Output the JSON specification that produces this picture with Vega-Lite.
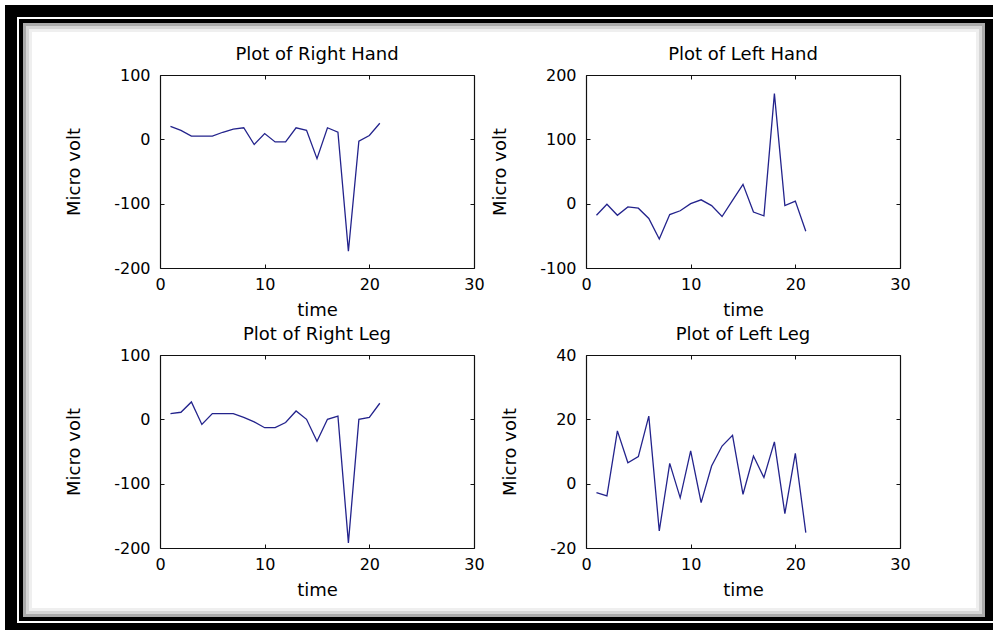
{
  "$schema": "https://vega.github.io/schema/vega-lite/v6.json",
  "background": "white",
  "padding": {"left": 5, "top": 5, "right": 0, "bottom": 0},
  "config": {
    "view": {"stroke": null},
    "axis": {
      "grid": false,
      "domainColor": "#111111",
      "domainWidth": 1.2,
      "tickColor": "#111111",
      "tickSize": -4,
      "labelFont": "DejaVu Sans",
      "labelFontSize": 16,
      "labelColor": "#000000",
      "labelExpr": "'' + datum.value",
      "titleFont": "DejaVu Sans",
      "titleFontSize": 18,
      "titleFontWeight": "normal",
      "titleColor": "#000000",
      "labelFlush": false,
      "labelOverlap": false
    },
    "axisX": {"labelPadding": 12, "titlePadding": 9},
    "axisY": {"labelPadding": 14, "titlePadding": 30},
    "title": {"font": "DejaVu Sans", "fontSize": 18, "fontWeight": "normal", "color": "#000000", "frame": "group", "anchor": "middle", "baseline": "alphabetic", "offset": 3}
  },
  "datasets": {
    "none": [],
    "rh": [
      {"t": 1, "v": 20}, {"t": 2, "v": 14}, {"t": 3, "v": 5}, {"t": 4, "v": 5}, {"t": 5, "v": 5},
      {"t": 6, "v": 11}, {"t": 7, "v": 16}, {"t": 8, "v": 18}, {"t": 9, "v": -8}, {"t": 10, "v": 9},
      {"t": 11, "v": -4}, {"t": 12, "v": -4}, {"t": 13, "v": 18}, {"t": 14, "v": 14}, {"t": 15, "v": -30},
      {"t": 16, "v": 18}, {"t": 17, "v": 11}, {"t": 18, "v": -174}, {"t": 19, "v": -3}, {"t": 20, "v": 6},
      {"t": 21, "v": 25}
    ],
    "lh": [
      {"t": 1, "v": -18}, {"t": 2, "v": -1}, {"t": 3, "v": -18}, {"t": 4, "v": -5}, {"t": 5, "v": -7},
      {"t": 6, "v": -23}, {"t": 7, "v": -55}, {"t": 8, "v": -17}, {"t": 9, "v": -11}, {"t": 10, "v": 0},
      {"t": 11, "v": 6}, {"t": 12, "v": -3}, {"t": 13, "v": -20}, {"t": 14, "v": 5}, {"t": 15, "v": 30},
      {"t": 16, "v": -13}, {"t": 17, "v": -19}, {"t": 18, "v": 171}, {"t": 19, "v": -3}, {"t": 20, "v": 4},
      {"t": 21, "v": -43}
    ],
    "rl": [
      {"t": 1, "v": 9}, {"t": 2, "v": 11}, {"t": 3, "v": 27}, {"t": 4, "v": -8}, {"t": 5, "v": 9},
      {"t": 6, "v": 9}, {"t": 7, "v": 9}, {"t": 8, "v": 3}, {"t": 9, "v": -4}, {"t": 10, "v": -13},
      {"t": 11, "v": -13}, {"t": 12, "v": -5}, {"t": 13, "v": 13}, {"t": 14, "v": 0}, {"t": 15, "v": -34},
      {"t": 16, "v": 0}, {"t": 17, "v": 5}, {"t": 18, "v": -192}, {"t": 19, "v": 0}, {"t": 20, "v": 3},
      {"t": 21, "v": 25}
    ],
    "ll": [
      {"t": 1, "v": -2.8}, {"t": 2, "v": -3.8}, {"t": 3, "v": 16.4}, {"t": 4, "v": 6.5}, {"t": 5, "v": 8.4},
      {"t": 6, "v": 21}, {"t": 7, "v": -14.7}, {"t": 8, "v": 6.3}, {"t": 9, "v": -4.4}, {"t": 10, "v": 10.2},
      {"t": 11, "v": -5.9}, {"t": 12, "v": 5.5}, {"t": 13, "v": 11.7}, {"t": 14, "v": 15}, {"t": 15, "v": -3.3},
      {"t": 16, "v": 8.6}, {"t": 17, "v": 1.9}, {"t": 18, "v": 13}, {"t": 19, "v": -9.3}, {"t": 20, "v": 9.4},
      {"t": 21, "v": -15.2}
    ]
  },
  "spacing": 0,
  "vconcat": [
    {"width": 988, "height": 12, "data": {"name": "none"}, "mark": "point", "view": {"fill": "black", "stroke": null}},
    {"width": 12, "height": 2, "data": {"name": "none"}, "mark": "point", "view": {"fill": "black", "stroke": null}},
    {"spacing": 0, "hconcat": [
      {"width": 12, "height": 4, "data": {"name": "none"}, "mark": "point", "view": {"fill": "black", "stroke": null}},
      {"width": 2, "height": 4, "data": {"name": "none"}, "mark": "point"},
      {"width": 974, "height": 4, "data": {"name": "none"}, "mark": "point", "view": {"fill": "black", "stroke": null}}
    ]},
    {"spacing": 0, "hconcat": [
      {"width": 12, "height": 594, "data": {"name": "none"}, "mark": "point", "view": {"fill": "black", "stroke": null}},
      {"width": 2, "height": 594, "data": {"name": "none"}, "mark": "point"},
      {"width": 4, "height": 594, "data": {"name": "none"}, "mark": "point", "view": {"fill": "black", "stroke": null}},
      {"spacing": 0, "vconcat": [
        {"width": 962, "height": 3, "data": {"name": "none"}, "mark": "point", "view": {"fill": "#ababab", "stroke": null}},
        {"spacing": 0, "hconcat": [
          {"width": 3, "height": 3, "data": {"name": "none"}, "mark": "point", "view": {"fill": "#ababab", "stroke": null}},
          {"width": 956, "height": 3, "data": {"name": "none"}, "mark": "point", "view": {"fill": "#d6d6d6", "stroke": null}},
          {"width": 3, "height": 3, "data": {"name": "none"}, "mark": "point", "view": {"fill": "#ababab", "stroke": null}}
        ]},
        {"spacing": 0, "hconcat": [
          {"width": 3, "height": 3, "data": {"name": "none"}, "mark": "point", "view": {"fill": "#ababab", "stroke": null}},
          {"width": 3, "height": 3, "data": {"name": "none"}, "mark": "point", "view": {"fill": "#d6d6d6", "stroke": null}},
          {"width": 950, "height": 3, "data": {"name": "none"}, "mark": "point", "view": {"fill": "#efefef", "stroke": null}},
          {"width": 3, "height": 3, "data": {"name": "none"}, "mark": "point", "view": {"fill": "#d6d6d6", "stroke": null}},
          {"width": 3, "height": 3, "data": {"name": "none"}, "mark": "point", "view": {"fill": "#ababab", "stroke": null}}
        ]},
        {"spacing": 0, "hconcat": [
          {"width": 3, "height": 576, "data": {"name": "none"}, "mark": "point", "view": {"fill": "#ababab", "stroke": null}},
          {"width": 3, "height": 576, "data": {"name": "none"}, "mark": "point", "view": {"fill": "#d6d6d6", "stroke": null}},
          {"width": 3, "height": 576, "data": {"name": "none"}, "mark": "point", "view": {"fill": "#efefef", "stroke": null}},
          {"columns": 5, "spacing": 0, "bounds": "flush", "align": "each", "concat": [
            {"width": 128, "height": 43, "data": {"name": "none"}, "mark": "point"},
            {"width": 314, "height": 43, "data": {"name": "none"}, "mark": "point"},
            {"width": 112, "height": 43, "data": {"name": "none"}, "mark": "point"},
            {"width": 314, "height": 43, "data": {"name": "none"}, "mark": "point"},
            {"width": 76, "height": 43, "data": {"name": "none"}, "mark": "point"},

            {"width": 128, "height": 193, "data": {"name": "none"}, "mark": "point"},
            {"width": 314, "height": 193, "data": {"name": "rh"}, "title": {"text": "Plot of Right Hand"},
             "layer": [
              {"mark": {"type": "line", "color": "#23238c", "strokeWidth": 1.3},
               "encoding": {
                "x": {"field": "t", "type": "quantitative", "scale": {"domain": [0, 30], "nice": false}, "axis": {"orient": "bottom", "title": "time", "values": [0, 10, 20, 30]}},
                "y": {"field": "v", "type": "quantitative", "scale": {"domain": [-200, 100], "nice": false, "zero": false}, "axis": {"orient": "left", "title": "Micro volt", "values": [-200, -100, 0, 100]}}}},
              {"mark": {"type": "point", "opacity": 0, "size": 0},
               "encoding": {
                "x": {"field": "t", "type": "quantitative", "axis": {"orient": "top", "title": null, "labels": false, "values": [0, 10, 20, 30]}},
                "y": {"field": "v", "type": "quantitative", "axis": {"orient": "right", "title": null, "labels": false, "values": [-200, -100, 0, 100]}}}}
             ],
             "resolve": {"axis": {"x": "independent", "y": "independent"}}},
            {"width": 112, "height": 193, "data": {"name": "none"}, "mark": "point"},
            {"width": 314, "height": 193, "data": {"name": "lh"}, "title": {"text": "Plot of Left Hand"},
             "layer": [
              {"mark": {"type": "line", "color": "#23238c", "strokeWidth": 1.3},
               "encoding": {
                "x": {"field": "t", "type": "quantitative", "scale": {"domain": [0, 30], "nice": false}, "axis": {"orient": "bottom", "title": "time", "values": [0, 10, 20, 30]}},
                "y": {"field": "v", "type": "quantitative", "scale": {"domain": [-100, 200], "nice": false, "zero": false}, "axis": {"orient": "left", "title": "Micro volt", "values": [-100, 0, 100, 200]}}}},
              {"mark": {"type": "point", "opacity": 0, "size": 0},
               "encoding": {
                "x": {"field": "t", "type": "quantitative", "axis": {"orient": "top", "title": null, "labels": false, "values": [0, 10, 20, 30]}},
                "y": {"field": "v", "type": "quantitative", "axis": {"orient": "right", "title": null, "labels": false, "values": [-100, 0, 100, 200]}}}}
             ],
             "resolve": {"axis": {"x": "independent", "y": "independent"}}},
            {"width": 76, "height": 193, "data": {"name": "none"}, "mark": "point"},

            {"width": 128, "height": 87, "data": {"name": "none"}, "mark": "point"},
            {"width": 314, "height": 87, "data": {"name": "none"}, "mark": "point"},
            {"width": 112, "height": 87, "data": {"name": "none"}, "mark": "point"},
            {"width": 314, "height": 87, "data": {"name": "none"}, "mark": "point"},
            {"width": 76, "height": 87, "data": {"name": "none"}, "mark": "point"},

            {"width": 128, "height": 193, "data": {"name": "none"}, "mark": "point"},
            {"width": 314, "height": 193, "data": {"name": "rl"}, "title": {"text": "Plot of Right Leg"},
             "layer": [
              {"mark": {"type": "line", "color": "#23238c", "strokeWidth": 1.3},
               "encoding": {
                "x": {"field": "t", "type": "quantitative", "scale": {"domain": [0, 30], "nice": false}, "axis": {"orient": "bottom", "title": "time", "values": [0, 10, 20, 30]}},
                "y": {"field": "v", "type": "quantitative", "scale": {"domain": [-200, 100], "nice": false, "zero": false}, "axis": {"orient": "left", "title": "Micro volt", "values": [-200, -100, 0, 100]}}}},
              {"mark": {"type": "point", "opacity": 0, "size": 0},
               "encoding": {
                "x": {"field": "t", "type": "quantitative", "axis": {"orient": "top", "title": null, "labels": false, "values": [0, 10, 20, 30]}},
                "y": {"field": "v", "type": "quantitative", "axis": {"orient": "right", "title": null, "labels": false, "values": [-200, -100, 0, 100]}}}}
             ],
             "resolve": {"axis": {"x": "independent", "y": "independent"}}},
            {"width": 112, "height": 193, "data": {"name": "none"}, "mark": "point"},
            {"width": 314, "height": 193, "data": {"name": "ll"}, "title": {"text": "Plot of Left Leg"},
             "layer": [
              {"mark": {"type": "line", "color": "#23238c", "strokeWidth": 1.3},
               "encoding": {
                "x": {"field": "t", "type": "quantitative", "scale": {"domain": [0, 30], "nice": false}, "axis": {"orient": "bottom", "title": "time", "values": [0, 10, 20, 30]}},
                "y": {"field": "v", "type": "quantitative", "scale": {"domain": [-20, 40], "nice": false, "zero": false}, "axis": {"orient": "left", "title": "Micro volt", "values": [-20, 0, 20, 40]}}}},
              {"mark": {"type": "point", "opacity": 0, "size": 0},
               "encoding": {
                "x": {"field": "t", "type": "quantitative", "axis": {"orient": "top", "title": null, "labels": false, "values": [0, 10, 20, 30]}},
                "y": {"field": "v", "type": "quantitative", "axis": {"orient": "right", "title": null, "labels": false, "values": [-20, 0, 20, 40]}}}}
             ],
             "resolve": {"axis": {"x": "independent", "y": "independent"}}},
            {"width": 76, "height": 193, "data": {"name": "none"}, "mark": "point"},

            {"width": 128, "height": 60, "data": {"name": "none"}, "mark": "point"},
            {"width": 314, "height": 60, "data": {"name": "none"}, "mark": "point"},
            {"width": 112, "height": 60, "data": {"name": "none"}, "mark": "point"},
            {"width": 314, "height": 60, "data": {"name": "none"}, "mark": "point"},
            {"width": 76, "height": 60, "data": {"name": "none"}, "mark": "point"}
          ]},
          {"width": 3, "height": 576, "data": {"name": "none"}, "mark": "point", "view": {"fill": "#efefef", "stroke": null}},
          {"width": 3, "height": 576, "data": {"name": "none"}, "mark": "point", "view": {"fill": "#d6d6d6", "stroke": null}},
          {"width": 3, "height": 576, "data": {"name": "none"}, "mark": "point", "view": {"fill": "#ababab", "stroke": null}}
        ]},
        {"spacing": 0, "hconcat": [
          {"width": 3, "height": 3, "data": {"name": "none"}, "mark": "point", "view": {"fill": "#ababab", "stroke": null}},
          {"width": 3, "height": 3, "data": {"name": "none"}, "mark": "point", "view": {"fill": "#d6d6d6", "stroke": null}},
          {"width": 950, "height": 3, "data": {"name": "none"}, "mark": "point", "view": {"fill": "#efefef", "stroke": null}},
          {"width": 3, "height": 3, "data": {"name": "none"}, "mark": "point", "view": {"fill": "#d6d6d6", "stroke": null}},
          {"width": 3, "height": 3, "data": {"name": "none"}, "mark": "point", "view": {"fill": "#ababab", "stroke": null}}
        ]},
        {"spacing": 0, "hconcat": [
          {"width": 3, "height": 3, "data": {"name": "none"}, "mark": "point", "view": {"fill": "#ababab", "stroke": null}},
          {"width": 956, "height": 3, "data": {"name": "none"}, "mark": "point", "view": {"fill": "#d6d6d6", "stroke": null}},
          {"width": 3, "height": 3, "data": {"name": "none"}, "mark": "point", "view": {"fill": "#ababab", "stroke": null}}
        ]},
        {"width": 962, "height": 3, "data": {"name": "none"}, "mark": "point", "view": {"fill": "#ababab", "stroke": null}}
      ]},
      {"width": 8, "height": 594, "data": {"name": "none"}, "mark": "point", "view": {"fill": "black", "stroke": null}}
    ]},
    {"spacing": 0, "hconcat": [
      {"width": 12, "height": 4, "data": {"name": "none"}, "mark": "point", "view": {"fill": "black", "stroke": null}},
      {"width": 2, "height": 4, "data": {"name": "none"}, "mark": "point"},
      {"width": 974, "height": 4, "data": {"name": "none"}, "mark": "point", "view": {"fill": "black", "stroke": null}}
    ]},
    {"width": 12, "height": 2, "data": {"name": "none"}, "mark": "point", "view": {"fill": "black", "stroke": null}},
    {"width": 988, "height": 7, "data": {"name": "none"}, "mark": "point", "view": {"fill": "black", "stroke": null}}
  ]
}
